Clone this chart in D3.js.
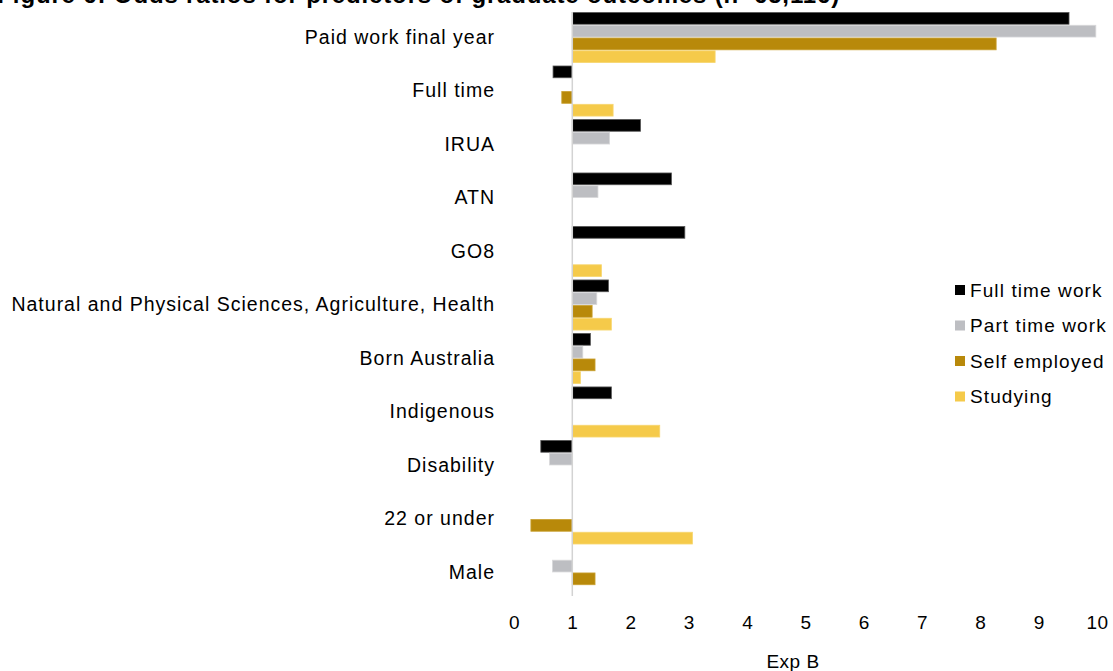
<!DOCTYPE html>
<html><head><meta charset="utf-8">
<script src="https://cdn.jsdelivr.net/npm/d3@7"></script>
<style>body{margin:0;background:#fff;} svg{display:block;font-family:"Liberation Sans",Arial,sans-serif;}</style>
</head><body>
<svg id="c" width="1113" height="671"></svg>
<script>
const categories = ["Paid work final year","Full time","IRUA","ATN","GO8","Natural and Physical Sciences, Agriculture, Health","Born Australia","Indigenous","Disability","22 or under","Male"];
const seriesNames = ["Full time work","Part time work","Self employed","Studying"];
const fullTime  = [9.52, 0.67, 2.17, 2.70, 2.93, 1.62, 1.31, 1.67, 0.46, null, null];
const partTime  = [9.98, null, 1.64, 1.44, null, 1.42, 1.18, null, 0.61, null, 0.66];
const selfEmp   = [8.27, 0.82, null, null, null, 1.34, 1.39, null, null, 0.29, 1.39];
const studying  = [3.45, 1.70, null, null, 1.50, 1.67, 1.14, 2.50, null, 3.06, null];
const xTicks = [0,1,2,3,4,5,6,7,8,9,10];
const colors = ["#000000","#bdbec2","#b8890a","#f5ca4a"];
const strokes = ["#555555","#d8d8da","#c9a030","#f7d670"];
const baseline = 1;

const series = [fullTime, partTime, selfEmp, studying];
const svg = d3.select("#c");
const x = d3.scaleLinear().domain([0,10]).range([514,1097]);
const y = d3.scaleBand().domain(categories).range([12,598]).paddingInner(0.045).paddingOuter(0);
const y1 = d3.scaleBand().domain(seriesNames).range([0,y.bandwidth()]);

// title (cut off at top)
svg.append("text").attr("x",840).attr("y",3).attr("text-anchor","end")
  .attr("font-weight","bold").attr("font-size",24).attr("letter-spacing",0.85).attr("fill","#000")
  .text("Figure 6: Odds ratios for predictors of graduate outcomes (n=65,116)");

// bars
const g = svg.append("g");
categories.forEach((cat,i)=>{
  series.forEach((s,j)=>{
    const v = s[i];
    if(v==null) return;
    g.append("rect")
      .attr("x", x(Math.min(v,baseline)))
      .attr("y", y(cat)+y1(seriesNames[j])+0.5)
      .attr("width", Math.abs(x(v)-x(baseline)))
      .attr("height", y1.bandwidth()-1)
      .attr("fill", colors[j]).attr("stroke", strokes[j]).attr("stroke-width",0.8);
  });
});

// baseline vertical axis
svg.append("line").attr("x1",x(baseline)).attr("x2",x(baseline)).attr("y1",12).attr("y2",596)
  .attr("stroke","#d3d3d3").attr("stroke-width",1.5);

// category labels
const yAxis = svg.append("g").attr("transform","translate(495,0)")
  .call(d3.axisLeft(y).tickSize(0).tickPadding(0));
yAxis.select(".domain").remove();
yAxis.selectAll("text").attr("font-size",19.5).attr("letter-spacing",1).attr("fill","#000")
  .attr("font-family","Liberation Sans, Arial, sans-serif");

// x axis
const xAxis = svg.append("g").attr("transform","translate(0,612)")
  .call(d3.axisBottom(x).tickValues(xTicks).tickSize(0).tickPadding(3).tickFormat(d3.format("d")));
xAxis.select(".domain").remove();
xAxis.selectAll("text").attr("font-size",19).attr("letter-spacing",0.5).attr("fill","#000")
  .attr("font-family","Liberation Sans, Arial, sans-serif");

svg.append("text").attr("x",793).attr("y",668).attr("text-anchor","middle")
  .attr("font-size",19).attr("letter-spacing",0.5).attr("fill","#000").text("Exp B");

// legend
const leg = svg.append("g");
seriesNames.forEach((n,j)=>{
  const yy = 290 + j*35.5;
  leg.append("rect").attr("x",955).attr("y",yy-5).attr("width",10).attr("height",10).attr("fill",colors[j]);
  leg.append("text").attr("x",970).attr("y",yy+6.5).attr("font-size",19).attr("letter-spacing",1.1).attr("fill","#000").text(n);
});
</script>
</body></html>
